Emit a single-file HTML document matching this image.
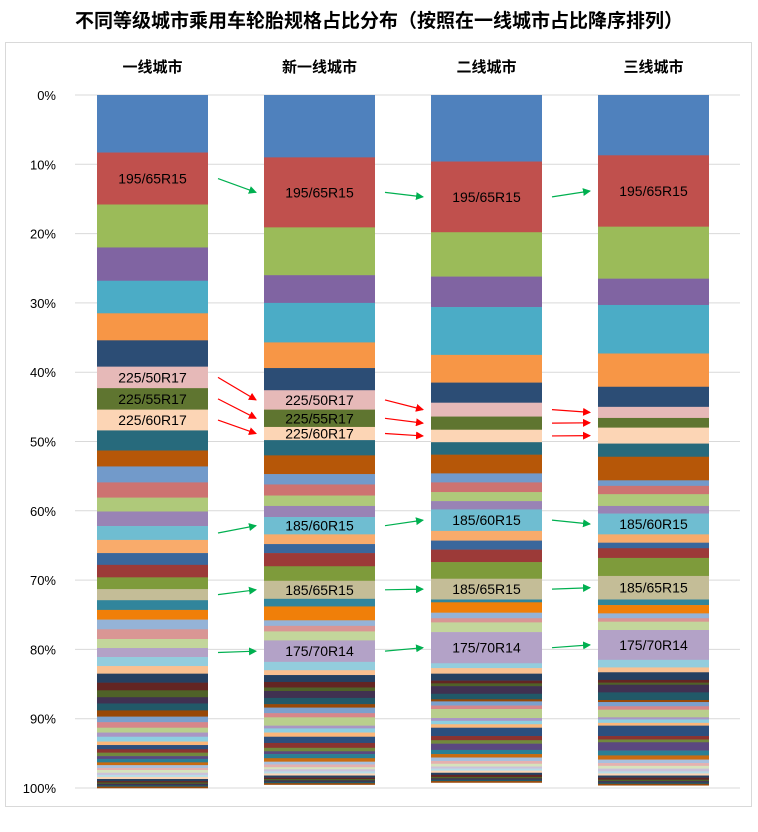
<!DOCTYPE html>
<html><head><meta charset="utf-8"><style>
body{margin:0;background:#fff;width:758px;height:827px;overflow:hidden;font-family:"Liberation Sans","Noto Sans CJK SC",sans-serif}
</style></head><body>
<svg id="chart" width="758" height="827" xmlns="http://www.w3.org/2000/svg" font-family="Liberation Sans, Noto Sans CJK SC, sans-serif">
<text x="379" y="27" text-anchor="middle" font-size="19" font-weight="bold" fill="#000">不同等级城市乘用车轮胎规格占比分布（按照在一线城市占比降序排列）</text>
<rect x="5.5" y="42.5" width="746" height="764" fill="none" stroke="#d9d9d9"/>
<g id="grid"></g><g id="bars"></g><g id="labels"></g><g id="arrows"></g>
<defs>
<marker id="ag" markerWidth="8" markerHeight="8" refX="7" refY="4" orient="auto" markerUnits="userSpaceOnUse"><path d="M0,0 L8,4 L0,8z" fill="#00b050"/></marker>
<marker id="ar" markerWidth="8" markerHeight="8" refX="7" refY="4" orient="auto" markerUnits="userSpaceOnUse"><path d="M0,0 L8,4 L0,8z" fill="#ff0000"/></marker>
<marker id="ak" markerWidth="8" markerHeight="8" refX="7" refY="4" orient="auto" markerUnits="userSpaceOnUse"><path d="M0,0 L8,4 L0,8z" fill="#00b050"/></marker>
</defs>
</svg>
<script>
const categories=['一线城市','新一线城市','二线城市','三线城市'];
const tickLabels=['0%','10%','20%','30%','40%','50%','60%','70%','80%','90%','100%'];
const tickValues=[0,10,20,30,40,50,60,70,80,90,100];
const mainColors=['#4f81bd','#c0504d','#9bbb59','#8064a2','#4bacc6','#f79646','#2c4d75','#e6b9b8','#5f7530','#fcd5b5','#276a7c','#b65708','#729aca','#cd7371','#afc97a','#9983b5','#6fbdd1','#f9ab6b','#3a679c','#9c3a38','#7e9b3b','#c4bd97','#31859c','#f07f09','#95b3d7','#d99694','#c3d69b','#b3a2c7','#93cddd','#fac090'];
const tailColors=['#254061','#632523','#4f6228','#403151','#215968','#984807','#7ba0cd','#d7868a','#b9cf8d','#a996c4','#8ecfe0','#fbb77a','#2b4f7e','#8b3330','#71893d','#5b4880','#2a7f94','#c86b10','#a7c0de','#e5b0af','#d6e3bc','#ccc0da','#b6dde8','#fcd5b4'];
const col1=[8.3,7.5,6.2,4.8,4.7,3.9,3.8,3.1,3.1,3.0,2.9,2.3,2.3,2.2,2.0,2.1,2.0,1.9,1.7,1.8,1.7,1.6,1.4,1.4,1.4,1.4,1.3,1.3,1.3,1.1];
const col2=[9.0,10.1,6.9,4.0,5.7,3.7,3.2,2.8,2.5,1.9,2.2,2.7,1.5,1.6,1.5,1.6,2.5,1.4,1.3,1.9,2.1,2.6,1.1,2.0,0.8,0.8,1.3,3.1,1.2,0.7];
const col3=[9.6,10.2,6.4,4.4,6.9,4.0,2.9,2.0,1.9,1.8,1.8,2.7,1.3,1.4,1.3,1.2,3.1,1.4,1.3,1.8,2.4,3.0,0.4,1.5,0.8,0.6,1.4,4.5,0.7,0.8];
const col4=[8.7,10.3,7.5,3.8,7.0,4.8,2.9,1.6,1.4,2.3,1.9,3.4,0.8,1.2,1.7,1.1,3.0,1.2,0.8,1.4,2.6,3.4,0.8,1.2,0.7,0.5,1.2,4.3,1.1,0.7];
const tail1=[1.3,1.1,1.0,0.9,1.0,0.9,0.8,0.8,0.7,0.6,0.7,0.5,0.6,0.5,0.5,0.4,0.5,0.4,0.4,0.3,0.4,0.3,0.3,0.3,0.3,0.2,0.2,0.2,0.2,0.2];
const tail2=[1.0,0.8,0.5,1.0,0.9,0.5,0.8,0.6,1.2,0.4,0.6,0.6,0.9,0.7,0.5,0.4,0.6,0.5,0.4,0.4,0.3,0.3,0.3,0.3,0.3,0.2,0.2,0.2,0.2,0.2];
const tail3=[1.0,0.4,0.4,1.1,0.8,0.3,0.6,0.5,1.3,0.4,0.5,0.5,1.2,0.6,0.5,0.9,0.6,0.5,0.5,0.4,0.4,0.3,0.3,0.3,0.3,0.3,0.2,0.2,0.2,0.2];
const tail4=[1.1,0.4,0.3,1.1,1.1,0.3,0.6,0.5,1.1,0.3,0.5,0.4,1.5,0.5,0.4,1.2,0.7,0.6,0.5,0.4,0.4,0.4,0.3,0.3,0.3,0.3,0.2,0.2,0.2,0.2];
const mains=[col1,col2,col3,col4], tails=[tail1,tail2,tail3,tail4];
const labelSeries=[[1,'195/65R15'],[7,'225/50R17'],[8,'225/55R17'],[9,'225/60R17'],[16,'185/60R15'],[21,'185/65R15'],[27,'175/70R14']];
const labelCols=[[1,7,8,9],[1,7,8,9,16,21,27],[1,16,21,27],[1,16,21,27]];
const NS='http://www.w3.org/2000/svg';
const y0=95,y1=788,barW=111,xs=[97,264,431,598];
const Y=v=>y0+(y1-y0)*v/100;
const X=i=>xs[i];
function mk(t,a,p){const e=document.createElementNS(NS,t);for(const k in a)e.setAttribute(k,a[k]);p.appendChild(e);return e;}
const grid=document.getElementById('grid');
tickValues.forEach((v,i)=>{
 const l=mk('line',{x1:75,x2:740,y1:Y(v),y2:Y(v),stroke:'#d9d9d9','stroke-width':1},grid);
 
 
 const t=mk('text',{x:56,y:Y(v)+5,'text-anchor':'end','font-size':13,fill:'#000'},grid);
 t.textContent=tickLabels[i];
 
 
});
const bars=document.getElementById('bars'),labels=document.getElementById('labels');
const mids=[];
categories.forEach((c,i)=>{
 const t=mk('text',{x:X(i)+barW/2,y:72,'text-anchor':'middle','font-size':15,'font-weight':'bold',fill:'#000'},labels);
 t.textContent=c;
 
 
 let acc=0;const m={};
 mains[i].forEach((v,j)=>{
  const r=mk('rect',{x:X(i),y:Y(acc),width:barW,height:Y(acc+v)-Y(acc)+0.3,fill:mainColors[j]},bars);
  
  
  m[j]=Y(acc+v/2);acc+=v;
 });
 tails[i].forEach((v,j)=>{
  const r=mk('rect',{x:X(i),y:Y(acc),width:barW,height:Y(acc+v)-Y(acc)+0.3,fill:tailColors[j%tailColors.length]},bars);
  
  
  acc+=v;
 });
 mids.push(m);
 labelCols[i].forEach(j=>{
  const name=labelSeries.find(s=>s[0]===j)[1];
  const t=mk('text',{x:X(i)+barW/2,y:m[j]+5,'text-anchor':'middle','font-size':14,fill:'#000'},labels);
  t.textContent=name;
  
  
 });
});
const arrows=document.getElementById('arrows');
const arrowDefs=[[0,1,'g'],[1,1,'g'],[2,1,'g'],[0,7,'r'],[0,8,'r'],[0,9,'r'],[1,7,'r'],[1,8,'r'],[1,9,'r'],[2,7,'r'],[2,8,'r'],[2,9,'r'],[0,16,'g'],[1,16,'g'],[2,16,'g'],[0,21,'g'],[1,21,'g'],[2,21,'g'],[0,27,'g'],[1,27,'g'],[2,27,'g']];
arrowDefs.forEach(([i,j,c])=>{
 const col=c==='g'?'#00b050':'#ff0000';
 const a=mk('line',{x1:X(i)+barW+10,y1:mids[i][j],x2:X(i+1)-8,y2:mids[i+1][j],stroke:col,'stroke-width':1.2,'marker-end':c==='g'?'url(#ag)':'url(#ar)'},arrows);
 
 
});
</script>
</body></html>
